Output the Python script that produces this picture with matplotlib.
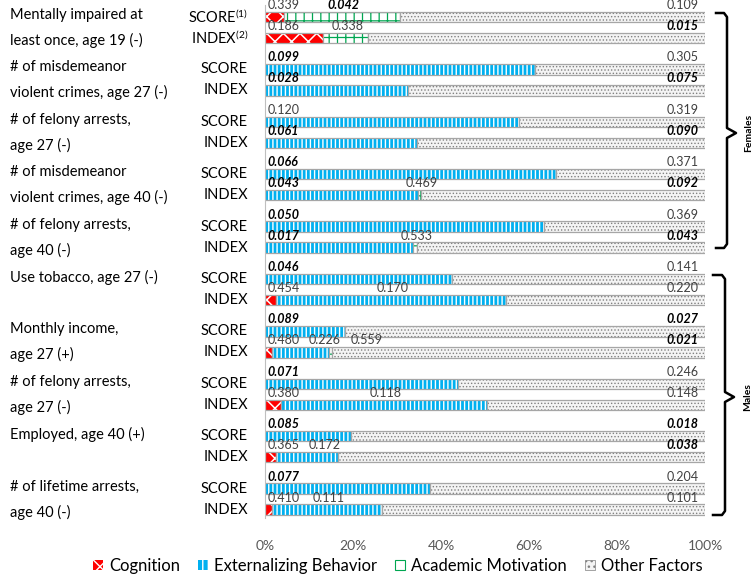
import matplotlib
matplotlib.use('Agg')
import matplotlib.pyplot as plt
import numpy as np
from matplotlib.patches import Patch
from matplotlib.lines import Line2D

plt.rcParams['font.family'] = ['Lato', 'DejaVu Sans']
plt.rcParams['mathtext.fontset'] = 'custom'
plt.rcParams['mathtext.rm'] = 'Lato'
plt.rcParams['mathtext.it'] = 'Lato:italic'
plt.rcParams['mathtext.bf'] = 'Lato:bold'

# ---------------- data ----------------
outcomes = [
    'Mentally impaired at\nleast once, age 19 (-)',
    '# of misdemeanor\nviolent crimes, age 27 (-)',
    '# of felony arrests,\nage 27 (-)',
    '# of misdemeanor\nviolent crimes, age 40 (-)',
    '# of felony arrests,\nage 40 (-)',
    'Use tobacco, age 27 (-)',
    'Monthly income,\nage 27 (+)',
    '# of felony arrests,\nage 27 (-)',
    'Employed, age 40 (+)',
    '# of lifetime arrests,\nage 40 (-)',
]
groups = ['Females', 'Males']
measures = ['SCORE$^{(1)}$', 'INDEX$^{(2)}$'] + ['SCORE', 'INDEX'] * 9

series_names = ['Cognition', 'Externalizing Behavior', 'Academic Motivation', 'Other Factors']
cognition     = [4.3, 13.2, 0, 0, 0, 0, 0, 0, 0, 0,   0, 2.5, 0, 1.6, 0, 3.6, 0, 2.5, 0, 1.6]
externalizing = [0, 0, 61.4, 32.5, 57.7, 34.5, 66.1, 34.8, 63.4, 33.6,
                 42.5, 52.3, 18.2, 12.9, 43.9, 46.9, 19.5, 14.1, 37.5, 25.0]
academic      = [26.4, 10.2, 0, 0, 0, 0, 0, 0.7, 0, 0.9,  0, 0, 0, 0.7, 0, 0, 0, 0, 0, 0]
other         = [69.3, 76.6, 38.6, 67.5, 42.3, 65.5, 33.9, 64.5, 36.6, 65.5,
                 57.5, 45.2, 81.8, 84.8, 56.1, 49.5, 80.5, 83.4, 62.5, 73.4]

cog_lbl = ['0.339', '0.186', '', '', '', '', '', '', '', '',
           '', '0.454', '', '0.480', '', '0.380', '', '0.365', '', '0.410']
ext_lbl = ['', '', '0.099', '0.028', '0.120', '0.061', '0.066', '0.043', '0.050', '0.017',
           '0.046', '0.170', '0.089', '0.226', '0.071', '0.118', '0.085', '0.172', '0.077', '0.111']
acad_lbl = ['0.042', '0.338', '', '', '', '', '', '0.469', '', '0.533',
            '', '', '', '0.559', '', '', '', '', '', '']
oth_lbl = ['0.109', '0.015', '0.305', '0.075', '0.319', '0.090', '0.371', '0.092', '0.369', '0.043',
           '0.141', '0.220', '0.027', '0.021', '0.246', '0.148', '0.018', '0.038', '0.204', '0.101']
# significant values (shown bold italic)
cog_sig = [False] * 20
ext_sig = [False, False, True, True, False, True, True, True, True, True,
           True, False, True, False, True, False, True, False, True, False]
acad_sig = [True] + [False] * 19
oth_sig = [False, True, False, True, False, True, False, True, False, True,
           False, False, True, True, False, False, True, True, False, False]

xticks = [0, 20, 40, 60, 80, 100]
xticklabels = ['0%', '20%', '40%', '60%', '80%', '100%']

# ---------------- figure ----------------
W, H = 755, 580
fig = plt.figure(figsize=(W / 100, H / 100), dpi=100)
ax = fig.add_axes([265 / W, (H - 518) / H, 440 / W, 513 / H])
ax.set_xlim(0, 100)
ax.set_ylim(518, 5)

n = len(measures)
y0, P, d = 17.0, 52.4, 21.0
ypos = np.array([y0 + (k // 2) * P + (k % 2) * d for k in range(n)])
bh = 10.5

styles = [
    dict(face='#ff0000', hcol='white', hatch='xx', hlw=1.1),
    dict(face='#00b0f0', hcol='white', hatch='||||', hlw=1.0),
    dict(face='white', hcol='#00a651', hatch='++', hlw=0.9),
    dict(face='#f4f4f4', hcol='#808080', hatch='.....', hlw=0.6),
]
vals_all = [np.array(cognition, float), np.array(externalizing, float),
            np.array(academic, float), np.array(other, float)]
outline = '#a6a6a6'


def set_hlw(patches, lw):
    for p in patches:
        if hasattr(p, 'set_hatch_linewidth'):
            p.set_hatch_linewidth(lw)


left = np.zeros(n)
bounds = []
for vals, st in zip(vals_all, styles):
    m = vals > 0
    plt.rcParams['hatch.linewidth'] = st['hlw']
    bars = ax.barh(ypos[m], vals[m], left=left[m], height=bh, color=st['face'],
                   edgecolor=st['hcol'], hatch=st['hatch'], linewidth=0)
    set_hlw(bars, st['hlw'])
    ax.barh(ypos[m], vals[m], left=left[m], height=bh, fill=False,
            edgecolor=outline, linewidth=0.9)
    bounds.append((left.copy(), left + vals))
    left = left + vals

# value labels
lbls = [cog_lbl, ext_lbl, acad_lbl, oth_lbl]
sigs = [cog_sig, ext_sig, acad_sig, oth_sig]
LW = 6.5   # approx label width (% units)
GAP = 3.0
for k in range(n):
    prev_right = -1e9
    first = True
    for s in range(4):
        txt = lbls[s][k]
        if not txt:
            continue
        st, en = bounds[s][0][k], bounds[s][1][k]
        ty = ypos[k] - bh / 2 - 0.8
        kw = dict(fontsize=9, va='bottom')
        if sigs[s][k]:
            kw.update(fontweight='bold', fontstyle='italic', color='black')
        else:
            kw.update(color='#404040')
        if s == 3:
            ax.text(98.6, ty, txt, ha='right', **kw)
        elif first:
            ax.text(0.5, ty, txt, ha='left', **kw)
            prev_right = 0.5 + LW
        else:
            xl = max((st + en) / 2 - LW / 2, prev_right + GAP)
            ax.text(xl, ty, txt, ha='left', **kw)
            prev_right = xl + LW
        first = False

# measure labels
for k in range(n):
    fig.text(248 / W, 1 - ypos[k] / H, measures[k], ha='right', va='center',
             fontsize=10.5, color='black')

# outcome labels (first line beside SCORE row, second beside INDEX row)
for i, lab in enumerate(outcomes):
    lines = lab.split('\n')
    ys = [y0 + i * P - 2, y0 + i * P + d + 2.5]
    for line, yy in zip(lines, ys):
        fig.text(10 / W, 1 - yy / H, line, ha='left', va='center', fontsize=10.5,
                 color='black')

# axes styling
for sp in ['top', 'right', 'bottom']:
    ax.spines[sp].set_visible(False)
ax.spines['left'].set_color('#bfbfbf')
ax.set_yticks([])
ax.set_xticks(xticks)
ax.set_xticklabels(xticklabels)
ax.tick_params(axis='x', length=0, pad=16, labelsize=10, labelcolor='#595959')

# group braces
def brace(x0, x1, xm, ytop, ybot, ymid, label, xl):
    xs = [x0, x1 - 3, x1, x1, xm, x1, x1, x1 - 3, x0]
    ys = [ytop, ytop, ytop + 4, ymid - 5, ymid, ymid + 5, ybot - 4, ybot, ybot]
    fig.add_artist(Line2D([x / W for x in xs], [1 - y / H for y in ys],
                          transform=fig.transFigure, color='black', lw=1.8,
                          solid_joinstyle='round'))
    fig.text(xl / W, 1 - ymid / H, label, rotation=90, ha='center', va='center',
             fontsize=7.5, fontweight='bold', color='black')

brace(716, 727, 736, 13, 248, 133, groups[0], 749)
brace(713, 725, 734, 275, 515, 397, groups[1], 748)

# legend
plt.rcParams['hatch.linewidth'] = 1.0
handles = [Patch(facecolor=st['face'], edgecolor=st['hcol'], hatch=st['hatch'], linewidth=0)
           for st in styles]
handles[0] = Patch(facecolor='#ff0000', edgecolor='white', hatch='x', linewidth=0)
handles[1] = Patch(facecolor=styles[1]['face'], edgecolor=styles[1]['hcol'], hatch='|||', linewidth=0)
handles[2] = Patch(facecolor='white', edgecolor='#00a651', hatch='+', linewidth=0.8)
handles[3] = Patch(facecolor='#f4f4f4', edgecolor='#808080', hatch='...', linewidth=0.5)
fig.legend(handles, series_names, loc='center', bbox_to_anchor=(398 / W, 1 - 566 / H),
           ncol=4, frameon=False, fontsize=12, handlelength=0.6, handleheight=0.6,
           handletextpad=0.35, columnspacing=1.1)

fig.savefig('out.png', dpi=100)
